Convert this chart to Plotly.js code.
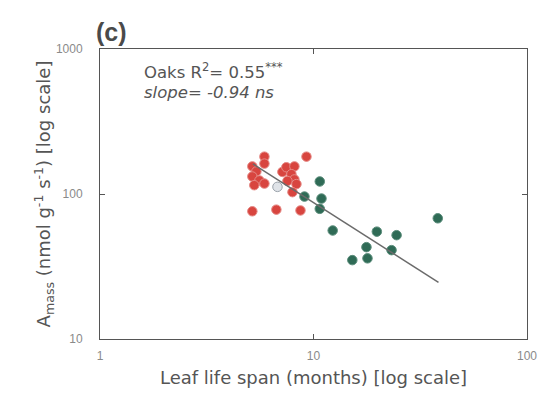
<!DOCTYPE html>
<html>
<head>
<meta charset="utf-8">
<script src="https://cdn.plot.ly/plotly-3.0.1.min.js"></script>
<style>
  html, body { margin: 0; padding: 0; background: #fff; }
  #chart { width: 552px; height: 398px; }
</style>
</head>
<body>
<div id="chart"></div>
<script>
// Deciduous oaks (red)
const redLifespan = [5.89, 5.89, 5.17, 5.40, 5.17, 5.58, 5.89, 5.28, 7.15, 7.46,
                     8.14, 7.88, 8.14, 7.55, 8.32, 7.97, 9.27, 5.17, 6.70, 8.69];
const redAmass    = [181, 162, 155, 143, 132, 124, 118, 115, 142, 153,
                     155, 137, 126, 123, 117, 103, 181, 76, 78, 77];

// Intermediate oak (light grey)
const greyLifespan = [6.78];
const greyAmass    = [112];

// Evergreen oaks (green)
const greenLifespan = [10.7, 9.07, 10.9, 10.7, 12.3, 19.8, 24.5, 17.7, 23.2, 15.2, 17.9, 38.2];
const greenAmass    = [122, 96, 93, 79, 56, 55, 52, 43, 41, 35, 36, 68];

// Fitted power law: Amass = fitA * lifespan^fitSlope
const fitSlope = -0.94;
const fitA = 760;
const fitRange = [5.2, 38.5];
const fitAmass = fitRange.map(v => fitA * Math.pow(v, fitSlope));

const tickVals = [1, 10, 100];
const yTickVals = [10, 100, 1000];
const yRange = [1, 3];

const txt = '#555';
const font = 'Liberation Sans, Arial, sans-serif';
const wide = 'DejaVu Sans, Liberation Sans, sans-serif';

const dot = (color, edge) => ({
  size: 9.5, color: color, line: { color: edge, width: 1 }
});

const traces = [
  {
    x: redLifespan, y: redAmass, mode: 'markers', type: 'scatter',
    marker: dot('#d8453f', '#e58a86')
  },
  {
    x: greyLifespan, y: greyAmass, mode: 'markers', type: 'scatter',
    marker: dot('#dfe3e8', '#9aa2aa')
  },
  {
    x: greenLifespan, y: greenAmass, mode: 'markers', type: 'scatter',
    marker: dot('#2f6b56', '#5b8d7b')
  },
  // regression line sits on the overlay axis so it is drawn above the dots
  {
    x: fitRange, y: fitAmass, mode: 'lines', type: 'scatter', yaxis: 'y2',
    line: { color: '#6b6b6b', width: 1.5 }, hoverinfo: 'skip'
  }
];

const layout = {
  width: 552, height: 398,
  margin: { l: 100, r: 25, t: 49, b: 59 },
  paper_bgcolor: '#fff', plot_bgcolor: '#fff',
  showlegend: false,
  xaxis: {
    type: 'log', range: [0, 2], tickvals: tickVals, ticktext: tickVals.map(String),
    showgrid: false, zeroline: false,
    showline: true, linecolor: '#555', linewidth: 1,
    mirror: 'ticks', ticks: 'inside', ticklen: 5, tickcolor: '#555',
    tickfont: { family: font, size: 12, color: '#8a8a8a' },
    ticklabelstandoff: 6, automargin: false,
    title: { text: 'Leaf life span (months) [log scale]', standoff: 8,
             font: { family: wide, size: 18, color: txt } }
  },
  // labelled y axis: transparent outside ticks keep the labels clear of the frame
  yaxis: {
    type: 'log', range: yRange, tickvals: yTickVals, ticktext: yTickVals.map(String),
    showgrid: false, zeroline: false,
    showline: true, linecolor: '#555', linewidth: 1, mirror: true,
    ticks: 'outside', ticklen: 14, tickcolor: 'rgba(0,0,0,0)',
    tickfont: { family: font, size: 12, color: '#8a8a8a' },
    automargin: false,
    title: { text: 'A<sub>mass</sub> (nmol g<sup>-1</sup> s<sup>-1</sup>) [log scale]', standoff: 0,
             font: { family: wide, size: 18, color: txt } }
  },
  // overlay y axis carrying the inward tick marks on both sides
  yaxis2: {
    type: 'log', range: yRange, tickvals: yTickVals, overlaying: 'y', anchor: 'x',
    showgrid: false, zeroline: false, showline: false, showticklabels: false,
    mirror: 'ticks', ticks: 'inside', ticklen: 5, tickcolor: '#555'
  },
  annotations: [
    {
      xref: 'paper', yref: 'paper', x: 0.028, y: 1.06,
      xanchor: 'center', yanchor: 'middle', showarrow: false,
      text: '<b>(c)</b>', font: { family: font, size: 25, color: '#4a4a4a' }
    },
    {
      xref: 'paper', yref: 'paper', x: 0.098, y: 0.923,
      xanchor: 'left', yanchor: 'middle', showarrow: false,
      text: 'Oaks R<sup>2</sup>= 0.55<sup>***</sup>',
      font: { family: wide, size: 16.5, color: txt }
    },
    {
      xref: 'paper', yref: 'paper', x: 0.098, y: 0.851,
      xanchor: 'left', yanchor: 'middle', showarrow: false,
      text: '<i>slope= -0.94 ns</i>',
      font: { family: wide, size: 16.5, color: txt }
    }
  ]
};

Plotly.newPlot('chart', traces, layout, { displayModeBar: false, staticPlot: true });
</script>
</body>
</html>
